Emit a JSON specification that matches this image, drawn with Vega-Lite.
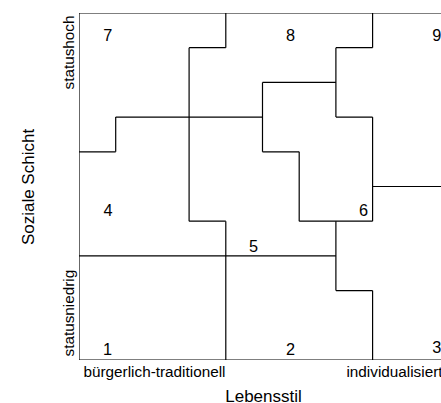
{
  "$schema": "https://vega.github.io/schema/vega-lite/v6.json",
  "width": 362,
  "height": 347,
  "autosize": "none",
  "padding": {"left": 79, "top": 13, "right": 0, "bottom": 43},
  "background": "white",
  "config": {"view": {"stroke": null}, "font": "Liberation Sans"},
  "layer": [
    {
      "data": {
        "values": [
          {"x1": 0, "y1": 10, "x2": 10, "y2": 10},
          {"x1": 0, "y1": 0, "x2": 0, "y2": 10},
          {"x1": 0, "y1": 0, "x2": 10, "y2": 0},
          {"x1": 4, "y1": 10, "x2": 4, "y2": 9},
          {"x1": 3, "y1": 9, "x2": 4, "y2": 9},
          {"x1": 3, "y1": 9, "x2": 3, "y2": 4},
          {"x1": 3, "y1": 4, "x2": 4, "y2": 4},
          {"x1": 4, "y1": 4, "x2": 4, "y2": 0},
          {"x1": 0, "y1": 6, "x2": 1, "y2": 6},
          {"x1": 1, "y1": 6, "x2": 1, "y2": 7},
          {"x1": 1, "y1": 7, "x2": 5, "y2": 7},
          {"x1": 8, "y1": 10, "x2": 8, "y2": 9},
          {"x1": 7, "y1": 9, "x2": 8, "y2": 9},
          {"x1": 7, "y1": 9, "x2": 7, "y2": 7},
          {"x1": 7, "y1": 7, "x2": 8, "y2": 7},
          {"x1": 8, "y1": 7, "x2": 8, "y2": 4},
          {"x1": 8, "y1": 5, "x2": 10, "y2": 5},
          {"x1": 5, "y1": 8, "x2": 7, "y2": 8},
          {"x1": 5, "y1": 8, "x2": 5, "y2": 6},
          {"x1": 5, "y1": 6, "x2": 6, "y2": 6},
          {"x1": 6, "y1": 6, "x2": 6, "y2": 4},
          {"x1": 6, "y1": 4, "x2": 8, "y2": 4},
          {"x1": 0, "y1": 3, "x2": 7, "y2": 3},
          {"x1": 7, "y1": 4, "x2": 7, "y2": 2},
          {"x1": 7, "y1": 2, "x2": 8, "y2": 2},
          {"x1": 8, "y1": 2, "x2": 8, "y2": 0}
        ]
      },
      "mark": {"type": "rule", "color": "black", "strokeWidth": 1.2, "clip": true},
      "encoding": {
        "x": {
          "field": "x1",
          "type": "quantitative",
          "scale": {"domain": [0, 9.864], "nice": false, "zero": false},
          "axis": {
            "values": [0, 9.864],
            "labelExpr": "datum.value == 0 ? 'bürgerlich-traditionell' : 'individualisiert'",
            "grid": false,
            "domain": false,
            "ticks": false,
            "tickSize": 0,
            "labelFlush": false,
            "labelOverlap": false,
            "labelAlign": {"condition": {"test": "datum.value == 0", "value": "left"}, "value": "right"},
            "labelOffset": {"condition": {"test": "datum.value == 0", "value": 4}, "value": 1},
            "labelBaseline": "alphabetic",
            "labelPadding": 16,
            "labelFontSize": 15.3,
            "labelColor": "black",
            "title": "Lebensstil",
            "titleFontSize": 17,
            "titleFontWeight": "normal",
            "titleColor": "black",
            "titleBaseline": "alphabetic",
            "titleAlign": "center",
            "titleX": 184,
            "titleY": 41.5
          }
        },
        "x2": {"field": "x2"},
        "y": {
          "field": "y1",
          "type": "quantitative",
          "scale": {"domain": [0, 10], "nice": false, "zero": false},
          "axis": {
            "values": [0, 10],
            "labelExpr": "datum.value == 10 ? 'statushoch' : 'statusniedrig'",
            "grid": false,
            "domain": false,
            "ticks": false,
            "tickSize": 0,
            "labelFlush": false,
            "labelOverlap": false,
            "labelAngle": -90,
            "labelAlign": {"condition": {"test": "datum.value == 10", "value": "right"}, "value": "left"},
            "labelOffset": {"condition": {"test": "datum.value == 10", "value": 2}, "value": -4},
            "labelBaseline": "alphabetic",
            "labelPadding": 6,
            "labelFontSize": 15.3,
            "labelColor": "black",
            "title": "Soziale Schicht",
            "titleFontSize": 17,
            "titleFontWeight": "normal",
            "titleColor": "black",
            "titleAngle": -90,
            "titleBaseline": "alphabetic",
            "titleAlign": "center",
            "titleX": -46,
            "titleY": 173.5
          }
        },
        "y2": {"field": "y2"}
      }
    },
    {
      "data": {
        "values": [
          {"label": "7", "tx": 0.787, "ty": 9.19},
          {"label": "8", "tx": 5.763, "ty": 9.19},
          {"label": "9", "tx": 9.75, "ty": 9.19},
          {"label": "4", "tx": 0.79, "ty": 4.14},
          {"label": "5", "tx": 4.755, "ty": 3.11},
          {"label": "6", "tx": 7.75, "ty": 4.14},
          {"label": "1", "tx": 0.78, "ty": 0.15},
          {"label": "2", "tx": 5.763, "ty": 0.15},
          {"label": "3", "tx": 9.75, "ty": 0.19}
        ]
      },
      "mark": {"type": "text", "fontSize": 16.3, "color": "black", "align": "center", "baseline": "alphabetic"},
      "encoding": {
        "x": {"field": "tx", "type": "quantitative"},
        "y": {"field": "ty", "type": "quantitative"},
        "text": {"field": "label"}
      }
    }
  ]
}
